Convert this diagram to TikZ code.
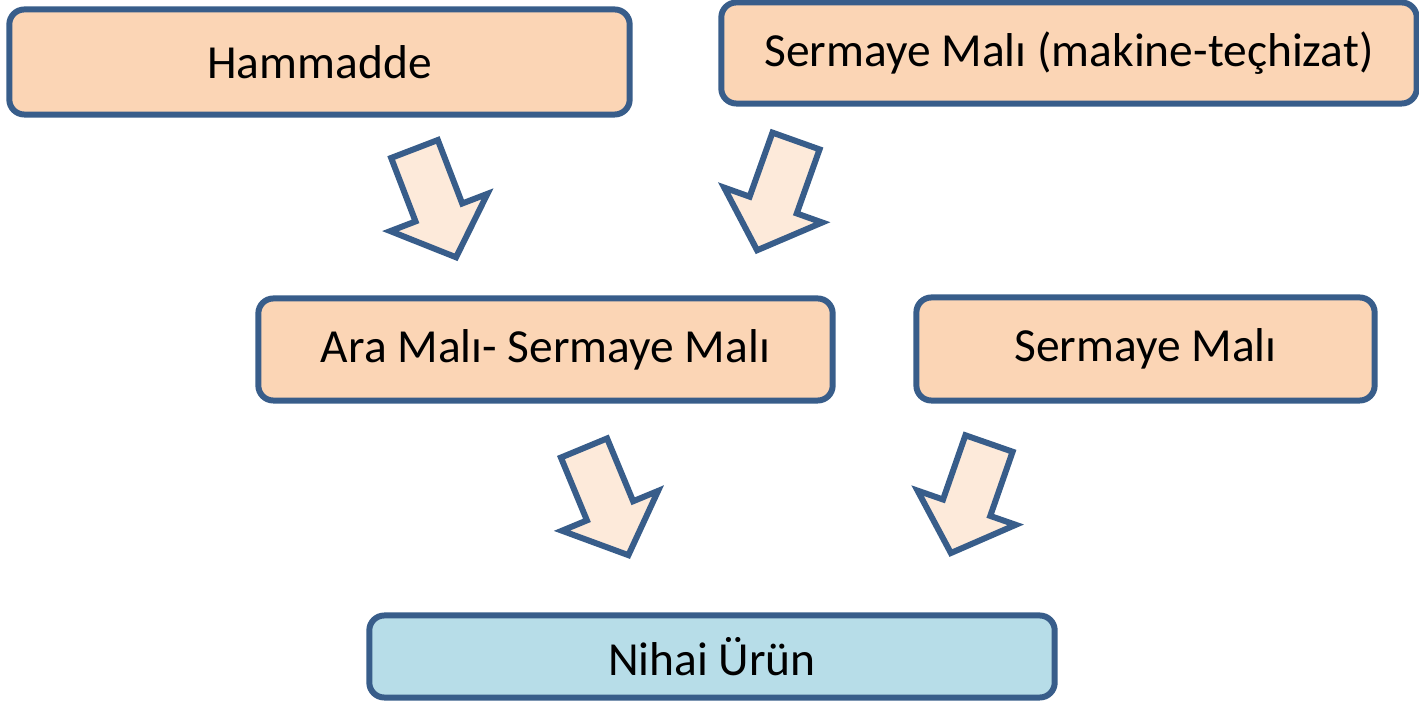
\documentclass[tikz,border=0pt]{standalone}
\usepackage{fontspec}
\setmainfont{Carlito}
\definecolor{edgeblue}{HTML}{385D8A}
\definecolor{boxorange}{HTML}{FBD5B5}
\definecolor{arrowfill}{HTML}{FDEADA}
\definecolor{boxblue}{HTML}{B7DDE8}
\begin{document}
\begin{tikzpicture}[x=0.01cm, y=-0.01cm,
    box/.style={draw=edgeblue, line width=1.7pt, rounded corners=0.15cm,
        fill=boxorange, inner sep=0pt, font=\fontsize{13.5}{16}\selectfont},
    blockarrow/.pic={
        \draw[edgeblue, line width=1.7pt, fill=arrowfill, line join=miter]
            (-25,0) -- (25,0) -- (25,68) -- (52,68) -- (0,116)
            -- (-52,68) -- (-25,68) -- cycle;
    }]
    \useasboundingbox (0,0) rectangle (1419,701);

    % Top row: inputs
    \node[box, minimum width=6.20cm, minimum height=1.05cm] (ham) at (319.5,62) {Hammadde};
    \node[box, minimum width=6.95cm, minimum height=1.01cm] (smak) at (1069,53) {Sermaye Malı (makine-teçhizat)};

    % Middle row
    \node[box, minimum width=5.74cm, minimum height=1.02cm] (ara) at (545.5,349.5) {Ara Malı- Sermaye Malı};
    \node[box, minimum width=4.58cm, minimum height=1.03cm] (sm) at (1145.5,349) {Sermaye Malı};

    % Final product
    \node[box, fill=boxblue, minimum width=6.85cm, minimum height=0.82cm] (nihai) at (712,656.5) {Nihai Ürün};

    % Block arrows
    \pic[rotate=21] at (414.5,149) {blockarrow};
    \pic[rotate=-19.6] at (796,141) {blockarrow};
    \pic[rotate=22.5] at (584,448) {blockarrow};
    \pic[rotate=-19.2] at (989,443.5) {blockarrow};
\end{tikzpicture}
\end{document}
